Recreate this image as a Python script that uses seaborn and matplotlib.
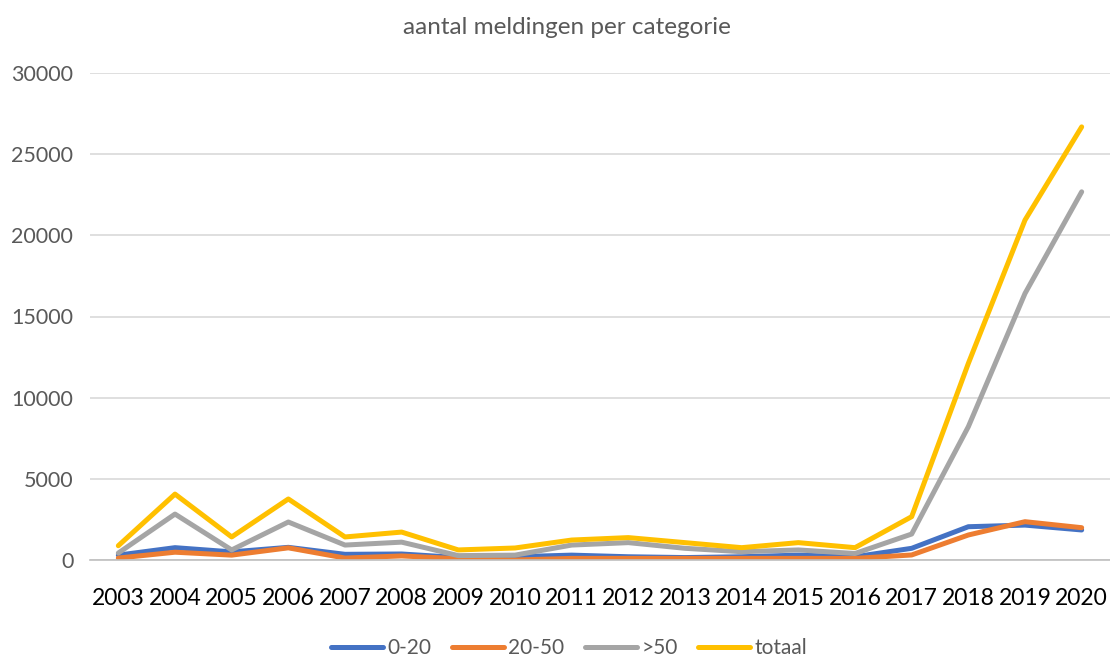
import matplotlib
matplotlib.use("Agg")
import matplotlib.pyplot as plt
import seaborn as sns
import pandas as pd

years = list(range(2003, 2021))
cat_0_20 = [300, 760, 500, 780, 350, 370, 150, 200, 300, 200, 150, 200, 300, 200, 720, 2050, 2150, 1850]
cat_20_50 = [120, 480, 300, 750, 120, 250, 80, 0, 100, 100, 100, 100, 100, 100, 310, 1540, 2360, 1990]
cat_50 = [430, 2830, 620, 2340, 920, 1100, 270, 300, 920, 1070, 720, 510, 620, 400, 1600, 8210, 16420, 22680]
totaal = [880, 4060, 1420, 3760, 1420, 1720, 620, 740, 1230, 1380, 1070, 760, 1070, 760, 2670, 12110, 20940, 26680]

series_names = ["0-20", "20-50", ">50", "totaal"]
colors = ["#4472C4", "#ED7D31", "#A5A5A5", "#FFC000"]
title = "aantal meldingen per categorie"

rows = []
for name, vals in zip(series_names, [cat_0_20, cat_20_50, cat_50, totaal]):
    for y, v in zip(years, vals):
        rows.append({"jaar": y, "aantal": v, "categorie": name})
df = pd.DataFrame(rows)

sns.set_theme(style="white")
plt.rcParams["font.family"] = ["Lato", "DejaVu Sans"]
txt = "#595959"

fig = plt.figure(figsize=(11.1, 6.56), dpi=100)
ax = fig.add_axes([90 / 1110, 96 / 656, 1020 / 1110, 487 / 656])

sns.lineplot(data=df, x="jaar", y="aantal", hue="categorie", hue_order=series_names,
             palette=colors, linewidth=3.6, ax=ax, legend=True, solid_capstyle="round")

ax.set_xlim(2002.5, 2020.5)
ax.set_ylim(0, 30000)
ax.set_yticks(range(0, 30001, 5000))
ax.set_xticks(years)
ax.set_xticklabels([str(y) for y in years])
ax.tick_params(axis="y", labelsize=15.5, colors=txt, length=0, pad=12)
ax.tick_params(axis="x", labelsize=16.5, colors="black", length=0, pad=20)
ax.yaxis.grid(True, color="#D9D9D9", linewidth=1.2)
ax.set_axisbelow(True)
for s in ["top", "right", "left"]:
    ax.spines[s].set_visible(False)
ax.spines["bottom"].set_color("#BFBFBF")
ax.spines["bottom"].set_linewidth(1.2)
ax.set_xlabel("")
ax.set_ylabel("")

fig.text(567 / 1110, 1 - 27 / 656, title, ha="center", va="center", fontsize=17.5, color=txt)

handles, labels = ax.get_legend_handles_labels()
ax.legend(handles, labels, loc="center", bbox_to_anchor=(569 / 1110, 1 - 648 / 656),
          bbox_transform=fig.transFigure, ncol=4, frameon=False, fontsize=15,
          labelcolor=txt, handlelength=2.5, handletextpad=0.2, columnspacing=1.0)

fig.savefig("out.png", dpi=100)
